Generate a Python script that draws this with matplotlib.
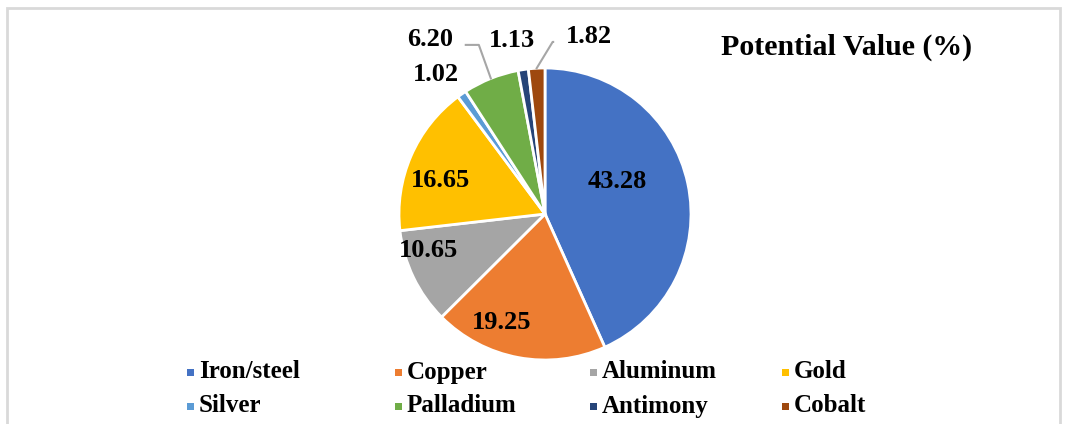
import numpy as np
import matplotlib
matplotlib.use('Agg')
import matplotlib.pyplot as plt
from matplotlib.patches import Rectangle

# data
metals = ['Iron/steel', 'Copper', 'Aluminum', 'Gold',
          'Silver', 'Palladium', 'Antimony', 'Cobalt']
values = [43.28, 19.25, 10.65, 16.65, 1.02, 6.20, 1.13, 1.82]
colors = ['#4472C4', '#ED7D31', '#A5A5A5', '#FFC000',
          '#5B9BD5', '#70AD47', '#264478', '#9E480E']

# label placement: (angle deg, radius fraction, leader side or 0)
label_pos = [(24, 0.54, 0), (-112, 0.80, 0), (197.5, 0.84, 0), (162, 0.75, 0),
             (128, 1.21, 0), (123.5, 1.43, -1), (100.7, 1.21, 0), (76, 1.25, 1)]

W, H = 1065, 424
fig = plt.figure(figsize=(W / 100, H / 100), dpi=100)
ax = fig.add_axes([0, 0, 1, 1])
ax.set_xlim(0, W)
ax.set_ylim(0, H)
ax.axis('off')

serif = ['Liberation Serif', 'DejaVu Serif']

# chart border (bottom edge is off the picture)
ax.add_patch(Rectangle((7, -20), 1053, H - 8 + 20, fill=False,
                       edgecolor='#D9D9D9', lw=2))

cx, cy, R = 545, H - 214, 146
wedges, _ = ax.pie(values, colors=colors, startangle=90, counterclock=False,
                   center=(cx, cy), radius=R,
                   wedgeprops=dict(edgecolor='white', linewidth=2))
ax.set_aspect('equal')
ax.set_xlim(0, W)
ax.set_ylim(0, H)

for w, v, (ang, rf, side) in zip(wedges, values, label_pos):
    a = np.deg2rad(ang)
    lx = cx + rf * R * np.cos(a)
    ly = cy + rf * R * np.sin(a)
    ax.text(lx, ly, '%.2f' % v, ha='center', va='center',
            fontsize=19, fontweight='bold', family=serif, color='black')
    if side != 0:
        # leader line from the wedge edge to the label
        mid = np.deg2rad((w.theta1 + w.theta2) / 2)
        px, py = cx + R * np.cos(mid), cy + R * np.sin(mid)
        yline = ly - 5
        ex = px - 12 if side < 0 else px + 16
        endx = lx - side * 36
        ax.plot([px, ex, endx], [py, yline, yline], color='#A6A6A6', lw=1.5)

ax.text(847, H - 47, 'Potential Value (%)', ha='center', va='center',
        fontsize=21.5, fontweight='bold', family=serif)

# legend, 4 columns x 2 rows
col_x = [190, 398, 593, 785]
row_y = [H - 372, H - 406]
for i, (m, c) in enumerate(zip(metals, colors)):
    x = col_x[i % 4]
    y = row_y[i // 4]
    ax.add_patch(Rectangle((x - 3.5, y - 3.5), 7, 7, color=c, lw=0))
    ax.text(x + 9, y, m, ha='left', va='center', fontsize=18,
            fontweight='bold', family=serif)

fig.savefig('out.png', dpi=100)
